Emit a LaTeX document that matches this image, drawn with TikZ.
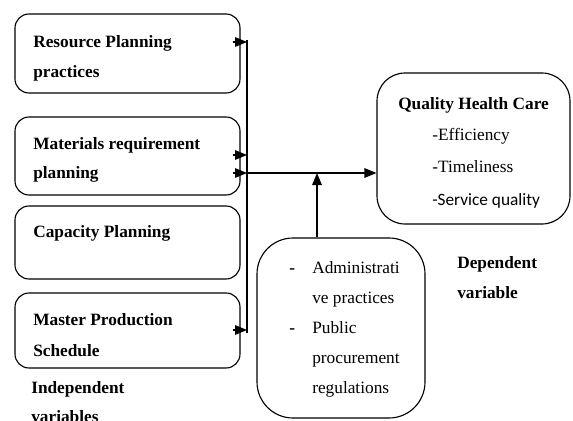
\documentclass[tikz,border=0pt]{standalone}
\usepackage{fontspec}
\setmainfont{Liberation Serif}
\newfontfamily\sansbody{Carlito}
\usetikzlibrary{arrows.meta}

\tikzset{
	box/.style={draw, line width=0.8pt, inner sep=0pt},
	bold/.style={font=\fontsize{12.3}{21.3}\selectfont\bfseries, align=left, inner sep=0pt, anchor=base west},
	plain/.style={font=\fontsize{12.3}{21.3}\selectfont, align=left, inner sep=0pt, anchor=base west},
	arr/.style={-{Triangle[length=0.3cm,width=0.24cm]}, line width=0.8pt}
}

\begin{document}
\begin{tikzpicture}
				\useasboundingbox (0,0) rectangle (14.325,10.5);
				
				% Independent variables
				\node[box, rounded corners=0.35cm, minimum width=5.625cm, minimum height=1.975cm] (rpp) at (3.1875,9.1625) {};
				\node[box, rounded corners=0.35cm, minimum width=5.625cm, minimum height=1.95cm] (mrp) at (3.1875,6.6) {};
				\node[box, rounded corners=0.35cm, minimum width=5.625cm, minimum height=1.825cm] (cap) at (3.1875,4.4375) {};
				\node[box, rounded corners=0.35cm, minimum width=5.625cm, minimum height=1.875cm] (mps) at (3.1875,2.2375) {};
				
				\node[bold] (rpptext) at (0.825,9.31) {Resource Planning};
				\node[bold] (rpptext2) at (0.825,8.57) {practices};
				\node[bold] (mrptext) at (0.825,6.775) {Materials requirement};
				\node[bold] (mrptext2) at (0.825,6.05) {planning};
				\node[bold] (captext) at (0.825,4.575) {Capacity Planning};
				\node[bold] (mpstext) at (0.825,2.375) {Master Production};
				\node[bold] (mpstext2) at (0.825,1.6) {Schedule};
				
				\node[bold] (indep) at (0.775,0.675) {Independent};
				\node[bold] (indep2) at (0.775,-0.065) {variables};
				
				% Dependent variable
				\node[box, rounded corners=0.7cm, minimum width=4.825cm, minimum height=3.775cm] (qhc) at (11.8375,6.7875) {};
				\node[bold] (qhctext) at (9.95,7.75) {Quality Health Care};
				\node[plain] (eff) at (10.8,7.0) {-Efficiency};
				\node[plain] (tim) at (10.8,6.2) {-Timeliness};
				\node[plain, font=\fontsize{12.3}{21.3}\sansbody] (serv) at (10.8,5.375) {-Service quality};
				
				\node[bold] (dep) at (11.425,3.8) {Dependent};
				\node[bold] (dep2) at (11.425,3.05) {variable};
				
				% Moderating variables
				\node[box, rounded corners=0.9cm, minimum width=4.2cm, minimum height=4.5cm] (mod) at (8.525,2.3) {};
				\node[bold] (dash1) at (7.225,3.675) {-};
				\node[plain] (adm) at (7.8,3.675) {Administrati};
				\node[plain] (adm2) at (7.8,2.925) {ve practices};
				\node[bold] (dash2) at (7.225,2.175) {-};
				\node[plain] (ppr) at (7.8,2.175) {Public};
				\node[plain] (ppr2) at (7.8,1.425) {procurement};
				\node[plain] (ppr3) at (7.8,0.675) {regulations};
				
				% Collecting line
				\coordinate (s1) at (6.175,9.45);
				\coordinate (s2) at (6.175,6.625);
				\coordinate (s3) at (6.175,6.175);
				\coordinate (s4) at (6.175,2.25);
				\coordinate (m) at (7.925,6.175);
				
				\draw[line width=0.8pt] ([yshift=0.05cm]s1) -- ([yshift=-0.08cm]s4); % vertical line
				
				\draw[arr] ([xshift=-0.2cm]rpp.east |- s1) -- (s1);
				\draw[arr] ([xshift=-0.2cm]mrp.east |- s2) -- (s2);
				\draw[arr] ([xshift=-0.2cm]mrp.east |- s3) -- (s3);
				\draw[arr] ([xshift=-0.2cm]mps.east |- s4) -- (s4);
				
				\draw[arr] (s3) -- (s3 -| qhc.west); % into quality health care
				\draw[arr] (m |- mod.north) -- (m); % from moderating box
			\end{tikzpicture}
\end{document}
